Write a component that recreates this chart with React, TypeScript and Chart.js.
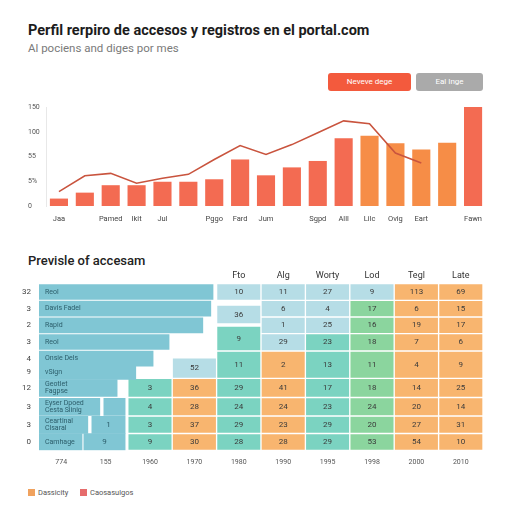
import React, { useEffect, useRef } from "react";
import { Chart, registerables } from "chart.js";

Chart.register(...registerables);
Chart.defaults.font.family = "Roboto, 'Noto Sans', sans-serif";

// ---------- top chart data ----------
const months = ["Jaa", "", "Pamed", "Ikit", "Jul", "", "Pggo", "Fard", "Jum", "", "Sgpd", "Alll", "Lilc", "Ovig", "Eart", "", "Fawn"];
const barValues = [15, 27, 42, 42, 49, 49, 54, 94, 62, 78, 91, 137, 142, 127, 114, 128, 200];
const barTones = ["r", "r", "r", "r", "r", "r", "r", "r", "r", "r", "r", "r", "o", "o", "o", "o", "r"];
const lineValues = [29, 61, 66, 46, 56, 64, 94, 122, 104, 124, 148, 172, 166, 107, 87, null, null];
const yTickLabels = ["0", "5%", "55", "100", "150"];

// ---------- bottom table data ----------
const rowLabels = ["32", "3", "2", "3", "4", "9", "12", "3", "3", "0"];
const rowCenters = [0.5, 1.5, 2.5, 3.5, 4.5, 5.3, 6.26, 7.39, 8.47, 9.5];
const rowIsLower = [false, false, false, false, false, false, true, true, true, true];
const nameLabels = ["Reol", "Davis Fadel", "Rapid", "Reol", "Onsie Dels", "vSign", "Geotlet\nFagpse", "Eyser Dpoed\nCesta Siinig", "Ceartinal\nClsaral", "Camhage"];
const nameValues = [3.92, 3.87, 3.69, 2.93, 2.57, 2.18, 1.76, 1.37, 1.1, 0.97];
const extraStart = [null, null, null, null, null, null, null, 1.46, 1.19, 1.01];
const extraEnd = [null, null, null, null, null, null, null, 1.94, 1.94, 1.94];
const extraLabels = ["", "", "", "", "", "", "", "", "1", "9"];

const colTicks = ["774", "155", "1960", "1970", "1980", "1990", "1995", "1998", "2000", "2010"];
const colHeaders = ["", "", "", "", "Fto", "Alg", "Worty", "Lod", "Tegl", "Late"];
const rowEdges = [0, 1, 2, 3, 4.04, 5.68, 6.83, 7.94, 8.99, 10];
const gridValues: (string | null)[][] = [
  [null, null, "10", "11", "27", "9", "113", "69"],
  [null, null, "36", "6", "4", "17", "6", "15"],
  [null, null, null, "1", "25", "16", "19", "17"],
  [null, null, "9", "29", "23", "18", "7", "6"],
  [null, "52", "11", "2", "13", "11", "4", "9"],
  ["3", "36", "29", "41", "17", "18", "14", "25"],
  ["4", "28", "24", "24", "23", "24", "20", "14"],
  ["3", "37", "29", "23", "29", "20", "27", "31"],
  ["9", "30", "28", "28", "29", "53", "54", "10"],
];
const gridTones = ["..LLLLOO", "..LLLGOO", "...LLGOO", "..TLTGOO", ".LTOTGOO", "TOTOTGOO", "TOTOTGOO", "TOTOTGOO", "TOTOTGOO"];
const spanOverrides: Record<string, [number, number]> = {
  "1-2": [1.28, 2.42],
  "3-2": [2.54, 4.04],
  "4-1": [4.45, 5.68],
};

const RED = "#f36b52";
const ORANGE = "#f68d47";
const LINE = "#c9543e";
const BLUE = "#80c6d4";
const TONES: Record<string, string> = { L: "#b6dde6", T: "#7bd3c1", G: "#8bd59e", O: "#f8b56f" };

const textPlugin = {
  id: "cellText",
  afterDatasetsDraw(chart: any) {
    const ctx = chart.ctx;
    chart.data.datasets.forEach((ds: any, di: number) => {
      if (!ds.texts) return;
      const meta = chart.getDatasetMeta(di);
      meta.data.forEach((el: any, i: number) => {
        const t = ds.texts[i];
        if (!t) return;
        const p = el.getProps(["x", "y", "base", "horizontal"], true);
        const lines = String(t).split("\n");
        ctx.save();
        ctx.fillStyle = ds.textColor || "#333";
        ctx.font = ds.textFont || "8px Roboto";
        ctx.textBaseline = "middle";
        let x: number, y: number;
        if (ds.textAlign === "left") {
          ctx.textAlign = "left";
          x = Math.min(p.x, p.base) + 6;
          y = p.y;
        } else {
          ctx.textAlign = "center";
          if (p.horizontal) {
            x = (p.x + p.base) / 2;
            y = p.y;
          } else {
            x = p.x;
            y = (p.y + p.base) / 2;
          }
        }
        const lh = ds.lineHeight || 8;
        lines.forEach((ln: string, k: number) => ctx.fillText(ln, x, y + (k - (lines.length - 1) / 2) * lh));
        ctx.restore();
      });
    });
  },
};

function TopChart() {
  const ref = useRef<HTMLCanvasElement>(null);
  useEffect(() => {
    const chart = new Chart(ref.current!, {
      type: "bar",
      data: {
        labels: months,
        datasets: [
          {
            type: "line",
            data: lineValues,
            borderColor: LINE,
            borderWidth: 1.6,
            pointRadius: 0,
            tension: 0,
            fill: false,
            order: 0,
          } as any,
          {
            type: "bar",
            data: barValues,
            backgroundColor: barTones.map((t) => (t === "o" ? ORANGE : RED)),
            barPercentage: 0.7,
            categoryPercentage: 1,
            order: 1,
          } as any,
        ],
      },
      options: {
        responsive: false,
        animation: false,
        layout: { padding: { left: 28, right: 26, top: 12, bottom: 0 } },
        plugins: { legend: { display: false }, tooltip: { enabled: false } },
        scales: {
          x: {
            grid: { display: false, drawTicks: false },
            border: { display: false },
            ticks: { font: { size: 7.5 }, color: "#444", padding: 9, autoSkip: false, maxRotation: 0 },
            afterFit: (s: any) => { s.height = 24; },
          },
          y: {
            min: 0,
            max: 200,
            grid: { display: false, drawTicks: false },
            border: { display: true, color: "#e8e8e8" },
            ticks: {
              stepSize: 50,
              callback: (v: any) => yTickLabels[Math.round(v / 50)],
              font: { size: 7 },
              color: "#555",
              crossAlign: "far",
              padding: 0,
            },
            afterFit: (s: any) => { s.width = 18; },
          },
        },
      } as any,
    });
    return () => chart.destroy();
  }, []);
  return <canvas ref={ref} width={512} height={135} style={{ position: "absolute", left: 0, top: 95, width: 512, height: 135 }} />;
}

function TableChart() {
  const ref = useRef<HTMLCanvasElement>(null);
  useEffect(() => {
    const cellSets = gridValues.map((row, r) => {
      const data = colTicks.map((_, c) => {
        if (c < 2) return null;
        const v = row[c - 2];
        if (v == null) return null;
        const ov = spanOverrides[`${r}-${c - 2}`];
        return ov ? ov : [rowEdges[r], rowEdges[r + 1]];
      });
      const colors = colTicks.map((_, c) => (c < 2 ? "transparent" : TONES[gridTones[r][c - 2]] || "transparent"));
      const texts = colTicks.map((_, c) => (c < 2 ? null : row[c - 2]));
      return {
        type: "bar",
        xAxisID: "x",
        yAxisID: "y",
        data,
        backgroundColor: colors,
        borderColor: "#ffffff",
        borderWidth: 1,
        borderSkipped: false,
        grouped: false,
        barPercentage: 1,
        categoryPercentage: 1,
        texts,
        textColor: "#3a3a3a",
        textFont: "8px Roboto",
      };
    });
    const leftSet = (lower: boolean, thickness: number) => {
      const idx = rowLabels.map((_, i) => i).filter((i) => rowIsLower[i] === lower);
      return {
        type: "bar",
        indexAxis: "y",
        xAxisID: "xl",
        yAxisID: "yl",
        data: idx.map((i) => ({ x: [0, nameValues[i]], y: rowCenters[i] })),
        backgroundColor: BLUE,
        grouped: false,
        barThickness: thickness,
        texts: idx.map((i) => nameLabels[i]),
        textAlign: "left",
        textColor: "#2c5e6b",
        textFont: "7px Roboto",
        lineHeight: 7.5,
      };
    };
    const extraIdx = rowLabels.map((_, i) => i).filter((i) => extraStart[i] != null);
    const extraSet = {
      type: "bar",
      indexAxis: "y",
      xAxisID: "xl",
      yAxisID: "yl",
      data: extraIdx.map((i) => ({ x: [extraStart[i], extraEnd[i]], y: rowCenters[i] })),
      backgroundColor: BLUE,
      grouped: false,
      barThickness: 17,
      texts: extraIdx.map((i) => extraLabels[i]),
      textColor: "#2c5e6b",
      textFont: "8px Roboto",
    };
    const chart = new Chart(ref.current!, {
      type: "bar",
      data: { labels: colTicks, datasets: [leftSet(false, 15), leftSet(true, 17), extraSet, ...cellSets] as any },
      options: {
        responsive: false,
        animation: false,
        layout: { padding: { left: 0, right: 29, top: 0, bottom: 0 } },
        plugins: { legend: { display: false }, tooltip: { enabled: false } },
        scales: {
          x: {
            type: "category",
            position: "bottom",
            offset: true,
            grid: { display: false, drawTicks: false },
            border: { display: false },
            ticks: { font: { size: 7 }, color: "#555", padding: 8, autoSkip: false, maxRotation: 0 },
            afterFit: (s: any) => { s.height = 17.7; },
          },
          xt: {
            type: "category",
            position: "top",
            labels: colHeaders,
            offset: true,
            grid: { display: false, drawTicks: false },
            border: { display: false },
            ticks: { font: { size: 9 }, color: "#333", padding: 3, autoSkip: false, maxRotation: 0 },
            afterFit: (s: any) => { s.height = 17.7; },
          },
          y: { type: "linear", min: 0, max: 10, reverse: true, offset: false, display: false },
          xl: { type: "linear", min: 0, max: 10, offset: false, display: false },
          yl: {
            type: "linear",
            position: "left",
            min: 0,
            max: 10,
            reverse: true,
            offset: false,
            grid: { display: false, drawTicks: false, offset: false },
            border: { display: false },
            afterBuildTicks: (s: any) => { s.ticks = rowCenters.map((v) => ({ value: v })); },
            ticks: {
              font: { size: 8 },
              color: "#444",
              padding: 8,
              autoSkip: false,
              callback: (_v: any, i: number) => rowLabels[i],
            },
            afterFit: (s: any) => { s.width = 39; },
          },
        },
      } as any,
      plugins: [textPlugin],
    });
    return () => chart.destroy();
  }, []);
  return <canvas ref={ref} width={512} height={202} style={{ position: "absolute", left: 0, top: 266, width: 512, height: 202 }} />;
}

const font = "Roboto, 'Noto Sans', sans-serif";

export default function App() {
  return (
    <div style={{ position: "fixed", left: 0, top: 0, width: 512, height: 512, background: "#fff", fontFamily: font, overflow: "hidden" }}>
      <div style={{ position: "absolute", left: 28, top: 22, fontSize: 14.5, lineHeight: "18px", fontWeight: 700, color: "#1c1c1c", whiteSpace: "nowrap" }}>
        Perfil rerpiro de accesos y registros en el portal.com
      </div>
      <div style={{ position: "absolute", left: 28, top: 41, fontSize: 11.5, lineHeight: "14px", color: "#7a7a7a", whiteSpace: "nowrap" }}>
        Al pociens and diges por mes
      </div>
      <div style={{ position: "absolute", left: 328, top: 73, width: 83, height: 18, background: "#f35a3d", borderRadius: 3, color: "#fff", fontSize: 8, lineHeight: "18px", textAlign: "center" }}>
        Neveve dege
      </div>
      <div style={{ position: "absolute", left: 416, top: 73, width: 67, height: 18, background: "#aaaaaa", borderRadius: 3, color: "#fff", fontSize: 8, lineHeight: "18px", textAlign: "center" }}>
        Eal Inge
      </div>
      <TopChart />
      <div style={{ position: "absolute", left: 28, top: 253, fontSize: 13, lineHeight: "16px", fontWeight: 500, color: "#222", whiteSpace: "nowrap" }}>
        Previsle of accesam
      </div>
      <TableChart />
      <div style={{ position: "absolute", left: 28, top: 489, width: 7, height: 7, background: "#f0a25e" }} />
      <div style={{ position: "absolute", left: 38, top: 487, fontSize: 7.5, lineHeight: "11px", color: "#555" }}>Dassicity</div>
      <div style={{ position: "absolute", left: 80, top: 489, width: 7, height: 7, background: "#e66c6c" }} />
      <div style={{ position: "absolute", left: 90, top: 487, fontSize: 7.5, lineHeight: "11px", color: "#555" }}>Caosasulgos</div>
    </div>
  );
}
